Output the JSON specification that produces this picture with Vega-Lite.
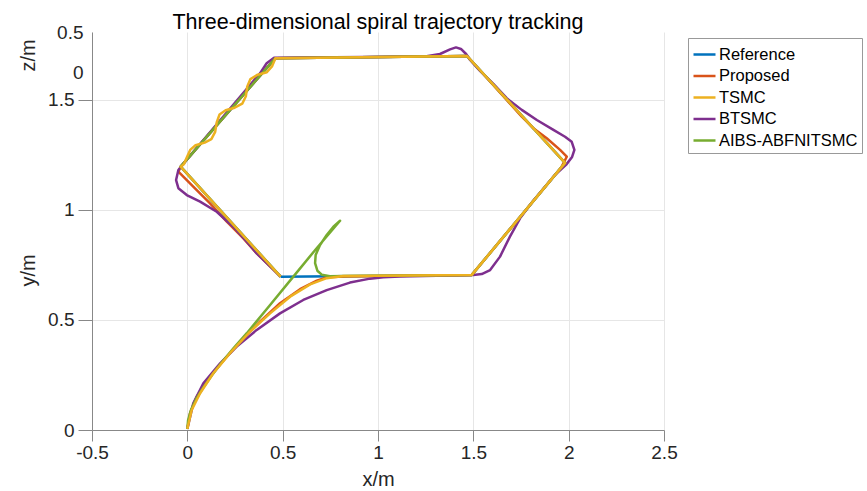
{
  "$schema": "https://vega.github.io/schema/vega-lite/v6.json",
  "width": 572,
  "height": 398,
  "autosize": {"type": "none"},
  "padding": {"left": 92, "top": 32, "right": 203, "bottom": 61},
  "background": "white",
  "config": {
    "view": {"stroke": null},
    "font": "Liberation Sans",
    "axis": {"labelFont": "Liberation Sans", "titleFont": "Liberation Sans", "labelColor": "#262626", "titleColor": "#262626", "titleFontWeight": "normal"}
  },
  "title": {"text": "Three-dimensional spiral trajectory tracking", "fontSize": 21.5, "fontWeight": "normal", "font": "Liberation Sans", "color": "#000000", "anchor": "middle", "frame": "group", "offset": -10},
  "layer": [
    {
      "data": {"values": [
        {"series": "Reference", "x": 0.489, "y": 0.697},
        {"series": "Reference", "x": 1.492, "y": 0.705},
        {"series": "Reference", "x": 1.981, "y": 1.214},
        {"series": "Reference", "x": 1.467, "y": 1.700},
        {"series": "Reference", "x": 0.462, "y": 1.690},
        {"series": "Reference", "x": -0.035, "y": 1.197},
        {"series": "Reference", "x": 0.489, "y": 0.697},

        {"series": "Proposed", "x": 0, "y": 0.005},
        {"series": "Proposed", "x": 0.014, "y": 0.076},
        {"series": "Proposed", "x": 0.049, "y": 0.151},
        {"series": "Proposed", "x": 0.119, "y": 0.242},
        {"series": "Proposed", "x": 0.207, "y": 0.333},
        {"series": "Proposed", "x": 0.294, "y": 0.417},
        {"series": "Proposed", "x": 0.381, "y": 0.492},
        {"series": "Proposed", "x": 0.486, "y": 0.576},
        {"series": "Proposed", "x": 0.591, "y": 0.640},
        {"series": "Proposed", "x": 0.679, "y": 0.679},
        {"series": "Proposed", "x": 0.731, "y": 0.694},
        {"series": "Proposed", "x": 0.827, "y": 0.698},
        {"series": "Proposed", "x": 1.492, "y": 0.705},
        {"series": "Proposed", "x": 1.960, "y": 1.192},
        {"series": "Proposed", "x": 1.990, "y": 1.242},
        {"series": "Proposed", "x": 1.955, "y": 1.273},
        {"series": "Proposed", "x": 1.885, "y": 1.326},
        {"series": "Proposed", "x": 1.813, "y": 1.373},
        {"series": "Proposed", "x": 1.754, "y": 1.424},
        {"series": "Proposed", "x": 1.467, "y": 1.700},
        {"series": "Proposed", "x": 0.462, "y": 1.690},
        {"series": "Proposed", "x": -0.035, "y": 1.197},
        {"series": "Proposed", "x": -0.047, "y": 1.174},
        {"series": "Proposed", "x": 0.031, "y": 1.106},
        {"series": "Proposed", "x": 0.119, "y": 1.030},
        {"series": "Proposed", "x": 0.207, "y": 0.947},
        {"series": "Proposed", "x": 0.294, "y": 0.871},
        {"series": "Proposed", "x": 0.364, "y": 0.803},
        {"series": "Proposed", "x": 0.489, "y": 0.697},

        {"series": "BTSMC", "x": 0, "y": 0.005},
        {"series": "BTSMC", "x": 0.031, "y": 0.121},
        {"series": "BTSMC", "x": 0.084, "y": 0.212},
        {"series": "BTSMC", "x": 0.172, "y": 0.303},
        {"series": "BTSMC", "x": 0.259, "y": 0.379},
        {"series": "BTSMC", "x": 0.364, "y": 0.455},
        {"series": "BTSMC", "x": 0.486, "y": 0.530},
        {"series": "BTSMC", "x": 0.608, "y": 0.591},
        {"series": "BTSMC", "x": 0.731, "y": 0.636},
        {"series": "BTSMC", "x": 0.853, "y": 0.670},
        {"series": "BTSMC", "x": 0.958, "y": 0.688},
        {"series": "BTSMC", "x": 1.028, "y": 0.694},
        {"series": "BTSMC", "x": 1.116, "y": 0.698},
        {"series": "BTSMC", "x": 1.500, "y": 0.705},
        {"series": "BTSMC", "x": 1.544, "y": 0.709},
        {"series": "BTSMC", "x": 1.588, "y": 0.727},
        {"series": "BTSMC", "x": 1.640, "y": 0.788},
        {"series": "BTSMC", "x": 1.692, "y": 0.879},
        {"series": "BTSMC", "x": 1.745, "y": 0.962},
        {"series": "BTSMC", "x": 1.813, "y": 1.041},
        {"series": "BTSMC", "x": 1.929, "y": 1.160},
        {"series": "BTSMC", "x": 1.986, "y": 1.205},
        {"series": "BTSMC", "x": 2.018, "y": 1.241},
        {"series": "BTSMC", "x": 2.030, "y": 1.273},
        {"series": "BTSMC", "x": 2.016, "y": 1.310},
        {"series": "BTSMC", "x": 1.981, "y": 1.333},
        {"series": "BTSMC", "x": 1.920, "y": 1.364},
        {"series": "BTSMC", "x": 1.833, "y": 1.409},
        {"series": "BTSMC", "x": 1.754, "y": 1.455},
        {"series": "BTSMC", "x": 1.675, "y": 1.508},
        {"series": "BTSMC", "x": 1.605, "y": 1.573},
        {"series": "BTSMC", "x": 1.535, "y": 1.632},
        {"series": "BTSMC", "x": 1.483, "y": 1.682},
        {"series": "BTSMC", "x": 1.462, "y": 1.709},
        {"series": "BTSMC", "x": 1.435, "y": 1.732},
        {"series": "BTSMC", "x": 1.409, "y": 1.739},
        {"series": "BTSMC", "x": 1.378, "y": 1.730},
        {"series": "BTSMC", "x": 1.325, "y": 1.709},
        {"series": "BTSMC", "x": 1.247, "y": 1.698},
        {"series": "BTSMC", "x": 0.455, "y": 1.692},
        {"series": "BTSMC", "x": 0.416, "y": 1.667},
        {"series": "BTSMC", "x": 0.381, "y": 1.621},
        {"series": "BTSMC", "x": 0.0, "y": 1.232},
        {"series": "BTSMC", "x": -0.047, "y": 1.182},
        {"series": "BTSMC", "x": -0.059, "y": 1.136},
        {"series": "BTSMC", "x": -0.047, "y": 1.099},
        {"series": "BTSMC", "x": -0.003, "y": 1.068},
        {"series": "BTSMC", "x": 0.067, "y": 1.038},
        {"series": "BTSMC", "x": 0.154, "y": 0.992},
        {"series": "BTSMC", "x": 0.241, "y": 0.924},
        {"series": "BTSMC", "x": 0.312, "y": 0.856},
        {"series": "BTSMC", "x": 0.364, "y": 0.803},
        {"series": "BTSMC", "x": 0.489, "y": 0.697},

        {"series": "AIBS-ABFNITSMC", "x": 0, "y": 0.005},
        {"series": "AIBS-ABFNITSMC", "x": 0.004, "y": 0.045},
        {"series": "AIBS-ABFNITSMC", "x": 0.019, "y": 0.091},
        {"series": "AIBS-ABFNITSMC", "x": 0.046, "y": 0.141},
        {"series": "AIBS-ABFNITSMC", "x": 0.082, "y": 0.191},
        {"series": "AIBS-ABFNITSMC", "x": 0.130, "y": 0.250},
        {"series": "AIBS-ABFNITSMC", "x": 0.182, "y": 0.309},
        {"series": "AIBS-ABFNITSMC", "x": 0.245, "y": 0.375},
        {"series": "AIBS-ABFNITSMC", "x": 0.312, "y": 0.440},
        {"series": "AIBS-ABFNITSMC", "x": 0.434, "y": 0.568},
        {"series": "AIBS-ABFNITSMC", "x": 0.556, "y": 0.697},
        {"series": "AIBS-ABFNITSMC", "x": 0.675, "y": 0.823},
        {"series": "AIBS-ABFNITSMC", "x": 0.801, "y": 0.951},
        {"series": "AIBS-ABFNITSMC", "x": 0.766, "y": 0.924},
        {"series": "AIBS-ABFNITSMC", "x": 0.731, "y": 0.886},
        {"series": "AIBS-ABFNITSMC", "x": 0.696, "y": 0.841},
        {"series": "AIBS-ABFNITSMC", "x": 0.673, "y": 0.795},
        {"series": "AIBS-ABFNITSMC", "x": 0.670, "y": 0.758},
        {"series": "AIBS-ABFNITSMC", "x": 0.682, "y": 0.724},
        {"series": "AIBS-ABFNITSMC", "x": 0.705, "y": 0.706},
        {"series": "AIBS-ABFNITSMC", "x": 0.748, "y": 0.699},
        {"series": "AIBS-ABFNITSMC", "x": 0.818, "y": 0.700},
        {"series": "AIBS-ABFNITSMC", "x": 1.492, "y": 0.705},
        {"series": "AIBS-ABFNITSMC", "x": 1.981, "y": 1.214},
        {"series": "AIBS-ABFNITSMC", "x": 1.467, "y": 1.700},
        {"series": "AIBS-ABFNITSMC", "x": 0.462, "y": 1.690},
        {"series": "AIBS-ABFNITSMC", "x": -0.035, "y": 1.197},
        {"series": "AIBS-ABFNITSMC", "x": 0.489, "y": 0.697},

        {"series": "TSMC", "x": 0, "y": 0.005},
        {"series": "TSMC", "x": 0.023, "y": 0.091},
        {"series": "TSMC", "x": 0.067, "y": 0.167},
        {"series": "TSMC", "x": 0.136, "y": 0.258},
        {"series": "TSMC", "x": 0.224, "y": 0.349},
        {"series": "TSMC", "x": 0.329, "y": 0.447},
        {"series": "TSMC", "x": 0.434, "y": 0.530},
        {"series": "TSMC", "x": 0.539, "y": 0.606},
        {"series": "TSMC", "x": 0.644, "y": 0.662},
        {"series": "TSMC", "x": 0.731, "y": 0.690},
        {"series": "TSMC", "x": 0.818, "y": 0.700},
        {"series": "TSMC", "x": 1.492, "y": 0.705},
        {"series": "TSMC", "x": 1.981, "y": 1.214},
        {"series": "TSMC", "x": 1.467, "y": 1.700},
        {"series": "TSMC", "x": 0.462, "y": 1.690},
        {"series": "TSMC", "x": 0.445, "y": 1.654},
        {"series": "TSMC", "x": 0.417, "y": 1.626},
        {"series": "TSMC", "x": 0.369, "y": 1.615},
        {"series": "TSMC", "x": 0.331, "y": 1.595},
        {"series": "TSMC", "x": 0.314, "y": 1.560},
        {"series": "TSMC", "x": 0.307, "y": 1.517},
        {"series": "TSMC", "x": 0.288, "y": 1.483},
        {"series": "TSMC", "x": 0.248, "y": 1.465},
        {"series": "TSMC", "x": 0.201, "y": 1.453},
        {"series": "TSMC", "x": 0.169, "y": 1.434},
        {"series": "TSMC", "x": 0.154, "y": 1.398},
        {"series": "TSMC", "x": 0.146, "y": 1.355},
        {"series": "TSMC", "x": 0.126, "y": 1.322},
        {"series": "TSMC", "x": 0.091, "y": 1.306},
        {"series": "TSMC", "x": 0.043, "y": 1.294},
        {"series": "TSMC", "x": 0.015, "y": 1.273},
        {"series": "TSMC", "x": -0.003, "y": 1.238},
        {"series": "TSMC", "x": -0.018, "y": 1.208},
        {"series": "TSMC", "x": -0.035, "y": 1.197},
        {"series": "TSMC", "x": 0.489, "y": 0.697}
      ]},
      "mark": {"type": "line", "strokeWidth": 2.5, "interpolate": "linear", "strokeJoin": "round"},
      "encoding": {
        "x": {"field": "x", "type": "quantitative", "scale": {"domain": [-0.5, 2.5], "nice": false, "zero": false},
          "axis": {"values": [-0.5, 0, 0.5, 1, 1.5, 2, 2.5], "labelExpr": "'' + datum.value", "labelFlush": false, "labelFontSize": 19, "labelPadding": 2, "tickSize": 11, "tickColor": "#888888", "domainColor": "#888888", "gridColor": "#e6e6e6", "title": "x/m", "titleFontSize": 20, "titlePadding": 7}},
        "y": {"field": "y", "type": "quantitative", "scale": {"domain": [0, 1.809], "nice": false, "zero": false},
          "axis": {"values": [0, 0.5, 1, 1.5], "labelExpr": "'' + datum.value", "labelFontSize": 19, "labelPadding": 4, "tickSize": 14, "tickColor": "#888888", "domainColor": "#888888", "gridColor": "#e6e6e6", "title": "y/m", "titleFontSize": 20, "titleX": -64, "titleY": 238, "titleAlign": "center", "titleBaseline": "middle", "titleAngle": -90}},
        "color": {"field": "series", "type": "nominal",
          "scale": {"domain": ["Reference", "Proposed", "TSMC", "BTSMC", "AIBS-ABFNITSMC"], "range": ["#0072BD", "#D95319", "#EDB120", "#7E2F8E", "#77AC30"]},
          "legend": {"title": null, "orient": "none", "legendX": 596, "legendY": 6, "symbolType": "stroke", "symbolSize": 484, "symbolStrokeWidth": 2.5, "labelFontSize": 16.5, "labelFont": "Liberation Sans", "labelColor": "#000000", "labelOffset": 2, "rowPadding": 0.5, "padding": 4, "strokeColor": "#999999", "fillColor": "#ffffff"}},
        "order": {"value": null}
      }
    },
    {
      "data": {"values": [{"z": 0}, {"z": 0.5}]},
      "mark": {"type": "rule", "opacity": 0},
      "encoding": {
        "y": {"field": "z", "type": "quantitative", "scale": {"domain": [-4.475, 0.5], "nice": false, "zero": false},
          "axis": {"orient": "left", "values": [0, 0.5], "labelExpr": "'' + datum.value", "grid": false, "domain": false, "ticks": false, "labelFontSize": 19, "labelPadding": 9, "title": "z/m", "titleFontSize": 20, "titleX": -64, "titleY": 23, "titleAlign": "center", "titleBaseline": "middle", "titleAngle": -90}}
      }
    }
  ],
  "resolve": {"scale": {"y": "independent"}, "axis": {"y": "independent"}}
}
